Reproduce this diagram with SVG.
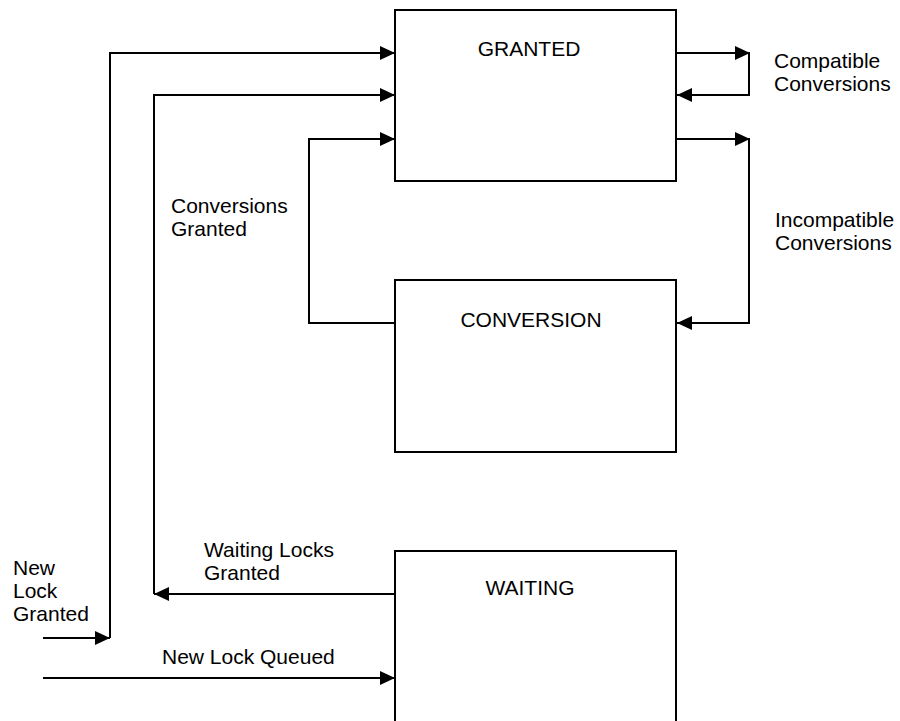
<svg xmlns="http://www.w3.org/2000/svg" width="900" height="721" viewBox="0 0 900 721">
<style>
.box{fill:#fff;stroke:#000;stroke-width:2}
.ln{fill:none;stroke:#000;stroke-width:2}
text{font-family:"Liberation Sans",Arial,sans-serif;font-size:21px;fill:#000}
.c{text-anchor:middle}
</style>
<defs>
<marker id="ah" markerUnits="userSpaceOnUse" markerWidth="15" markerHeight="14" refX="15" refY="7" orient="auto">
<path d="M0,0 L15,7 L0,14 z" fill="#000"/>
</marker>
</defs>
<rect width="900" height="721" fill="#fff"/>
<g id="granted"><rect class="box" x="395" y="10" width="281" height="171"/><text class="c" x="529" y="56">GRANTED</text></g>
<g id="conversion"><rect class="box" x="395" y="280" width="281" height="172"/><text class="c" x="531" y="327">CONVERSION</text></g>
<g id="waiting"><rect class="box" x="395" y="551" width="281" height="200"/><text class="c" x="530" y="595">WAITING</text></g>
<g id="connectors">
<path class="ln" d="M43,638 H110" marker-end="url(#ah)"/>
<path class="ln" d="M110,638 V53 H395" marker-end="url(#ah)"/>
<path class="ln" d="M395,594 H154" marker-end="url(#ah)"/>
<path class="ln" d="M154,594 V95 H395" marker-end="url(#ah)"/>
<path class="ln" d="M395,323 H309 V139 H395" marker-end="url(#ah)"/>
<path class="ln" d="M676,53 H750" marker-end="url(#ah)"/>
<path class="ln" d="M749,53 V95 H677" marker-end="url(#ah)"/>
<path class="ln" d="M676,139 H750" marker-end="url(#ah)"/>
<path class="ln" d="M749,139 V323 H677" marker-end="url(#ah)"/>
<path class="ln" d="M43,678 H395" marker-end="url(#ah)"/>
</g>
<g id="labels">
<text x="774" y="68">Compatible</text>
<text x="774" y="91">Conversions</text>
<text x="775" y="227">Incompatible</text>
<text x="775" y="250">Conversions</text>
<text x="171" y="213">Conversions</text>
<text x="171" y="236">Granted</text>
<text x="204" y="557">Waiting Locks</text>
<text x="204" y="580">Granted</text>
<text x="13" y="575">New</text>
<text x="13" y="598">Lock</text>
<text x="13" y="621">Granted</text>
<text x="162" y="664">New Lock Queued</text>
</g>
</svg>
